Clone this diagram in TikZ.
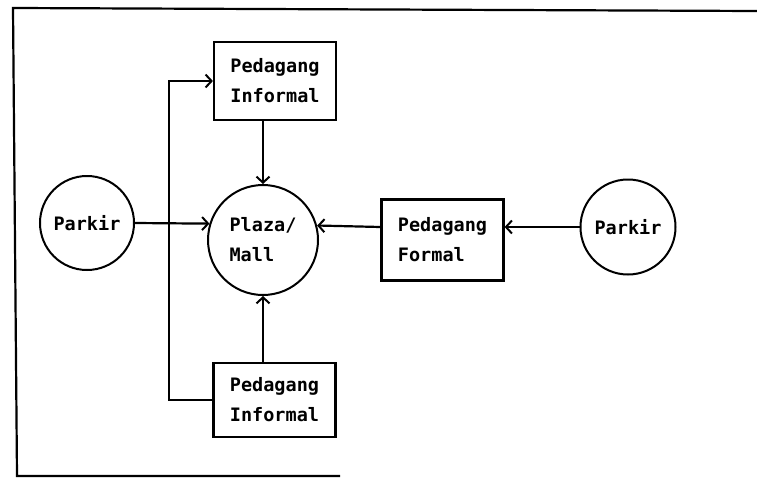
\documentclass[tikz,border=0pt]{standalone}
\usepackage{fontspec}
\usepackage{tikz}
\usetikzlibrary{arrows.meta}
\newfontfamily\dotfont{DejaVu Sans Mono}

\begin{document}
\begin{tikzpicture}[x=1pt,y=-1pt,
		lbl/.style={font=\dotfont\bfseries\fontsize{18.5}{30}\selectfont,align=left},
		place/.style={circle,draw,line width=2pt,inner sep=0pt,lbl},
		stall/.style={rectangle,draw,line width=2.2pt,minimum width=122pt,minimum height=78pt,lbl},
		arr/.style={line width=2.2pt,-{Straight Barb[length=6pt,width=13pt,line width=2pt]}}]
			\useasboundingbox (0,0) rectangle (757,479);
			% frame
			\draw [line width=2.2pt] (757,11) -- (13,8) -- (17,476) -- (340,476);
			\node [place,minimum size=110pt] (pl) at (263,240) {Plaza/\\Mall};
			\node [place,minimum size=94pt] (pkl) at (87,223) {Parkir};
			\node [place,minimum size=95pt] (pkr) at (628,227) {Parkir};
			\node [stall] (inf1) at (275,81) {Pedagang\\Informal};
			\node [stall,minimum height=74pt] (inf2) at (274.5,400) {Pedagang\\Informal};
			\node [stall,minimum height=81pt] (frm) at (442.5,240) {Pedagang\\Formal};
			\coordinate (bus) at (169,240);
			\draw [arr] (pkl.east) -- (pl.163);
			\draw [arr] (pl |- inf1.south) -- (pl.north);
			\draw [arr] (pl |- inf2.north) -- (pl.south);
			\draw [arr] (frm.west |- pkr) -- (pl.15);
			\draw [arr] (pkr.west) -- (pkr.west -| frm.east);
			\draw [arr] (inf2.west) -| (bus) |- (inf1.west);
		\end{tikzpicture}
\end{document}
